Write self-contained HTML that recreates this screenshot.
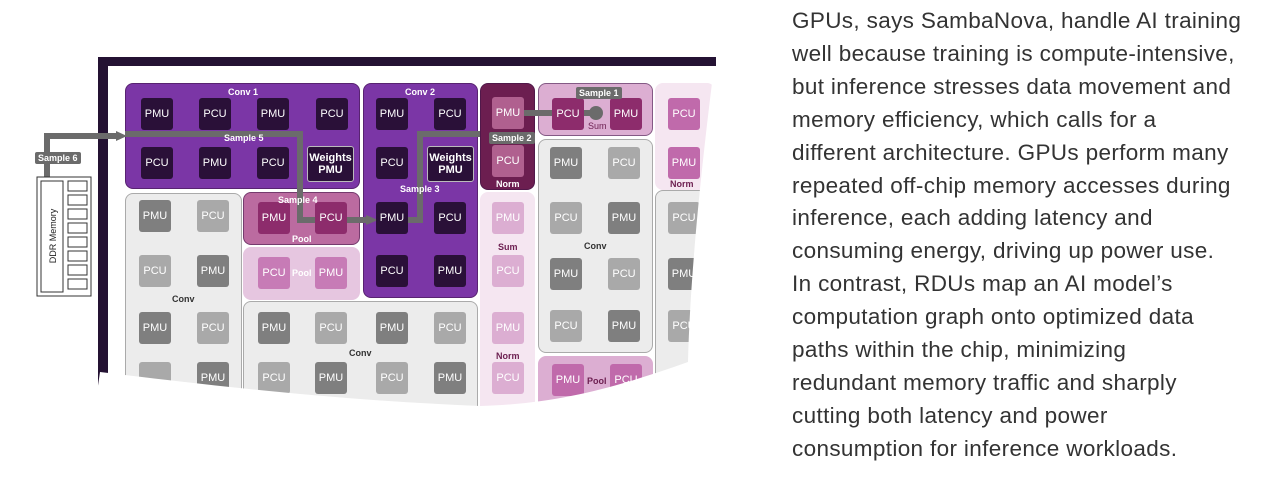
<!DOCTYPE html>
<html><head><meta charset="utf-8">
<style>
body{margin:0;width:1280px;height:482px;background:#fff;position:relative;overflow:hidden;font-family:"Liberation Sans",sans-serif}
.a{position:absolute;box-sizing:border-box}
.box{border-radius:8px;border:1.5px solid rgba(60,20,70,.55)}
.t{position:absolute;width:32px;height:32px;border-radius:3px;font:11px "Liberation Sans",sans-serif;color:#fff;display:flex;align-items:center;justify-content:center;text-align:center;line-height:12px}
.lbl{position:absolute;font:bold 9px "Liberation Sans",sans-serif;color:#fff;white-space:nowrap}
.tag{position:absolute;font:bold 9px "Liberation Sans",sans-serif;color:#fff;background:#6b6b6b;padding:1px 3px;border-radius:2px;white-space:nowrap}
#txt{position:absolute;left:792px;top:5px;font-size:22.5px;line-height:32.9px;color:#333;white-space:nowrap;letter-spacing:0.35px}
</style></head><body>
<div id="diagram">
<div class="a" style="left:98px;top:57px;width:618px;height:9px;background:#241233"></div>
<div class="a" style="left:98px;top:57px;width:10px;height:330px;background:#241233"></div>

<div class="a box" style="left:125px;top:83px;width:235px;height:106px;background:#7b36a6"></div>
<div class="a box" style="left:363px;top:83px;width:115px;height:215px;background:#7b36a6"></div>
<div class="a box" style="left:125px;top:193px;width:117px;height:220px;background:#ececec;border-color:#aaa"></div>
<div class="a box" style="left:243px;top:192px;width:117px;height:53px;background:#bb6ba0"></div>
<div class="a box" style="left:243px;top:247px;width:117px;height:53px;background:#e6c6e0;border-color:#e6c6e0"></div>
<div class="a box" style="left:243px;top:301px;width:235px;height:120px;background:#ececec;border-color:#aaa"></div>
<div class="a box" style="left:480px;top:83px;width:55px;height:107px;background:#6c1e50"></div>
<div class="a box" style="left:480px;top:192px;width:55px;height:230px;background:#f5e6f1;border-color:#f5e6f1"></div>
<div class="a box" style="left:538px;top:83px;width:115px;height:53px;background:#dcaed2"></div>
<div class="a box" style="left:538px;top:139px;width:115px;height:214px;background:#ececec;border-color:#aaa"></div>
<div class="a box" style="left:538px;top:356px;width:115px;height:60px;background:#dcaed2;border-color:#dcaed2"></div>
<div class="a box" style="left:655px;top:83px;width:60px;height:107px;background:#f5e6f1;border-color:#f5e6f1"></div>
<div class="a box" style="left:655px;top:190px;width:60px;height:220px;background:#ececec;border-color:#aaa"></div>

<svg class="a" style="left:0;top:0" width="720" height="430">
<g fill="none" stroke="#6b6b6b" stroke-width="6">
<polyline points="47,178 47,136 118,136"/>
<polyline points="125,134 300,134 300,220 368,220"/>
<polyline points="408,220 420,220 420,134 480,134"/>
<polyline points="523,113 596,113"/>
</g>
<g fill="#6b6b6b"><polygon points="116,131 127,136 116,141"/><polygon points="366,215 378,220 366,225"/><circle cx="596" cy="113" r="7"/></g>
<g fill="#fff" stroke="#333" stroke-width="1">
<rect x="37" y="177" width="54" height="119"/>
<rect x="41" y="181" width="22" height="111"/>
</g>
<g fill="#fff" stroke="#333" stroke-width="1" id="ddrslots"></g>
<text x="56" y="236" transform="rotate(-90 56 236)" font-family="Liberation Sans" font-size="9" fill="#222" text-anchor="middle">DDR Memory</text>
</svg>

<div id="tiles"></div>

<div class="lbl" style="left:228px;top:87px">Conv 1</div>
<div class="lbl" style="left:405px;top:87px">Conv 2</div>
<div class="lbl" style="left:224px;top:133px">Sample 5</div>
<div class="lbl" style="left:278px;top:195px">Sample 4</div>
<div class="lbl" style="left:400px;top:184px">Sample 3</div>
<div class="lbl" style="left:292px;top:234px">Pool</div>
<div class="lbl" style="left:292px;top:268px">Pool</div>
<div class="lbl" style="left:172px;top:294px;color:#333">Conv</div>
<div class="lbl" style="left:349px;top:348px;color:#333">Conv</div>
<div class="lbl" style="left:584px;top:241px;color:#333">Conv</div>
<div class="lbl" style="left:496px;top:179px">Norm</div>
<div class="lbl" style="left:498px;top:242px;color:#6c1e50">Sum</div>
<div class="lbl" style="left:496px;top:351px;color:#6c1e50">Norm</div>
<div class="lbl" style="left:588px;top:121px;color:#6c1e50;font-weight:normal">Sum</div>
<div class="lbl" style="left:670px;top:179px;color:#6c1e50">Norm</div>
<div class="lbl" style="left:587px;top:376px;color:#6c1e50">Pool</div>
<div class="tag" style="left:35px;top:152px">Sample 6</div>
<div class="tag" style="left:489px;top:132px">Sample 2</div>
<div class="tag" style="left:576px;top:87px">Sample 1</div>

<svg class="a" style="left:0;top:0" width="760" height="440">
<path d="M100,372 C200,384 330,400 480,406 C560,404 620,386 688,362 C690,280 700,180 712,83 L716,83 L716,0 L760,0 L760,440 L90,440 Z" fill="#fff"/>
</svg>
</div>

<div id="txt">GPUs, says SambaNova, handle AI training<br>well because training is compute-intensive,<br>but inference stresses data movement and<br>memory efficiency, which calls for a<br>different architecture. GPUs perform many<br>repeated off-chip memory accesses during<br>inference, each adding latency and<br>consuming energy, driving up power use.<br>In contrast, RDUs map an AI model’s<br>computation graph onto optimized data<br>paths within the chip, minimizing<br>redundant memory traffic and sharply<br>cutting both latency and power<br>consumption for inference workloads.</div>

<script>
var C={d:'#2a1038',g1:'#7f7f7f',g2:'#a9a9a9',pk:'#8d2c6c',lp:'#c77bb6',nt:'#b0608f',lt:'#dcaed2',mp:'#c06aab'};
var tiles=[
[141,98,'PMU','d'],[199,98,'PCU','d'],[257,98,'PMU','d'],[316,98,'PCU','d'],
[141,147,'PCU','d'],[199,147,'PMU','d'],[257,147,'PCU','d'],
[376,98,'PMU','d'],[434,98,'PCU','d'],[376,147,'PCU','d'],
[376,202,'PMU','d'],[434,202,'PCU','d'],[376,255,'PCU','d'],[434,255,'PMU','d'],
[139,200,'PMU','g1'],[197,200,'PCU','g2'],[139,255,'PCU','g2'],[197,255,'PMU','g1'],
[139,312,'PMU','g1'],[197,312,'PCU','g2'],[139,362,'','g2'],[197,362,'PMU','g1'],
[258,202,'PMU','pk'],[315,202,'PCU','pk'],[258,257,'PCU','lp'],[315,257,'PMU','lp'],
[258,312,'PMU','g1'],[315,312,'PCU','g2'],[376,312,'PMU','g1'],[434,312,'PCU','g2'],
[258,362,'PCU','g2'],[315,362,'PMU','g1'],[376,362,'PCU','g2'],[434,362,'PMU','g1'],
[492,97,'PMU','nt'],[492,145,'PCU','nt'],
[552,98,'PCU','pk'],[610,98,'PMU','pk'],
[492,202,'PMU','lt'],[492,255,'PCU','lt'],[492,312,'PMU','lt'],[492,362,'PCU','lt'],
[550,147,'PMU','g1'],[608,147,'PCU','g2'],[550,202,'PCU','g2'],[608,202,'PMU','g1'],
[550,258,'PMU','g1'],[608,258,'PCU','g2'],[550,310,'PCU','g2'],[608,310,'PMU','g1'],
[552,364,'PMU','mp'],[610,364,'PCU','mp'],
[668,98,'PCU','mp'],[668,147,'PMU','mp'],
[668,202,'PCU','g2'],[668,258,'PMU','g1'],[668,310,'PCU','g2']
];
var host=document.getElementById('tiles');
tiles.forEach(function(t){
  var el=document.createElement('div');
  el.className='t';
  el.style.left=t[0]+'px';el.style.top=t[1]+'px';el.style.background=C[t[3]];
  el.textContent=t[2];
  
  
  host.appendChild(el);
});
var weights=[307,427];
weights.forEach(function(x){
  var el=document.createElement('div');
  el.className='t';
  el.style.left=x+'px';el.style.top='146px';el.style.width='45px';el.style.height='34px';
  el.style.background=C.d;el.style.border='1.5px solid #bbb';el.style.fontWeight='bold';
  el.innerHTML='Weights<br>PMU';
  
  
  host.appendChild(el);
});
var slots=document.getElementById('ddrslots');
for(var i=0;i<8;i++){
  var r=document.createElementNS('http://www.w3.org/2000/svg','rect');
  r.setAttribute('x','68');r.setAttribute('y',String(181+i*14));
  r.setAttribute('width','19');r.setAttribute('height','10');
  
  
  slots.appendChild(r);
}
</script>
</body></html>
